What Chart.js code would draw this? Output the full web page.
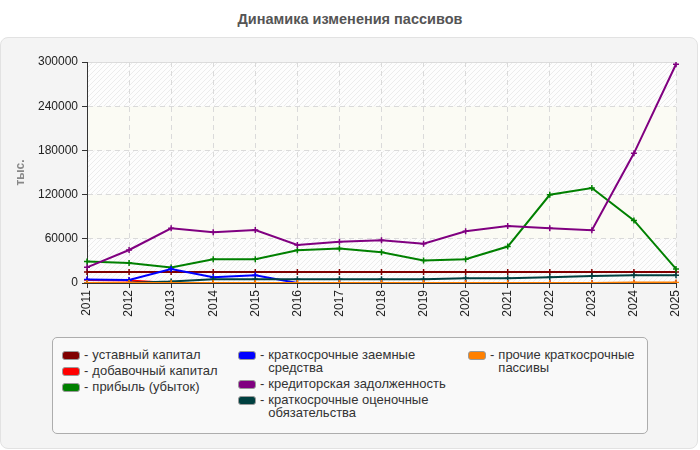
<!DOCTYPE html>
<html>
<head>
<meta charset="utf-8">
<script src="https://cdn.jsdelivr.net/npm/chart.js@4/dist/chart.umd.min.js"></script>
<style>
  html, body { margin:0; padding:0; background:#ffffff; }
  body { width:700px; height:450px; position:relative; overflow:hidden; font-family:"Liberation Sans", Arial, sans-serif; }
  #title { position:absolute; left:0; top:11px; width:700px; text-align:center; font-weight:bold; font-size:14.5px; color:#555; }
  #panel { position:absolute; left:0; top:37px; width:696px; height:410px; background:#f4f4f4; border:1px solid #e2e2e2; border-radius:8px; }
  #cv { position:absolute; left:0; top:0; }
  #legend { position:absolute; left:52px; top:337px; width:594px; height:95px; background:#f9f9f9; border:1px solid #adadad; border-radius:5px; }
  .col { position:absolute; top:10px; }
  .item { display:flex; align-items:flex-start; margin-bottom:3px; font-size:13px; line-height:13px; color:#333; }
  .sw { width:16px; height:7px; border:1px solid #9a9a9a; border-radius:3px; margin-top:3px; margin-right:4px; flex:none; }
  .dash { margin-right:4px; flex:none; }
  .txt { width:190px; }
</style>
</head>
<body>
<div id="title">Динамика изменения пассивов</div>
<div id="panel"></div>
<canvas id="cv" width="700" height="330"></canvas>
<div id="legend"></div>
<script>
const years = ['2011','2012','2013','2014','2015','2016','2017','2018','2019','2020','2021','2022','2023','2024','2025'];
const seriesNames = ['уставный капитал','добавочный капитал','прибыль (убыток)','краткосрочные заемные средства','кредиторская задолженность','краткосрочные оценочные обязательства','прочие краткосрочные пассивы'];
const seriesColors = ['#800000','#ff0000','#008000','#0000ff','#800080','#004040','#ff8000'];
const ustavny      = [15000,15000,15000,15000,15000,15000,15000,15000,15000,15000,15000,15000,15000,15000,15000];
const dobavochny   = [4000,3300,0,0,0,0,0,0,0,0,0,0,0,0,0];
const pribyl       = [29100,27200,21000,32300,32300,44500,46800,41800,30500,32300,49500,119800,128900,84900,19100];
const zaemnye      = [4600,4100,19000,7700,10500,0,0,0,0,0,0,0,0,0,0];
const kreditorskaya= [21300,44800,74200,68800,71900,51600,56100,58000,53400,70200,77400,74200,71500,176000,296900];
const otsenochnye  = [0,300,2000,5000,5000,5000,5000,5000,5000,6400,6400,7700,9500,10500,10500];
const prochie      = [0,0,0,0,0,0,0,0,0,0,0,0,0,700,700];
const yTicks = [0,60000,120000,180000,240000,300000];
const seriesData = [ustavny,dobavochny,pribyl,zaemnye,kreditorskaya,otsenochnye,prochie];

function makeHatch(){
  const c = document.createElement('canvas'); c.width = 5; c.height = 5;
  const x = c.getContext('2d');
  x.fillStyle = '#fdfdfd'; x.fillRect(0,0,5,5);
  x.strokeStyle = '#ececec'; x.lineWidth = 1;
  x.beginPath(); x.moveTo(-1,6); x.lineTo(6,-1); x.stroke();
  x.beginPath(); x.moveTo(-1,1); x.lineTo(1,-1); x.stroke();
  x.beginPath(); x.moveTo(4,6); x.lineTo(6,4); x.stroke();
  return c;
}
const hatchCanvas = makeHatch();

const bandPlugin = {
  id:'bands',
  beforeDraw(chart){
    const {ctx, chartArea:a, scales:{y}} = chart;
    const pat = ctx.createPattern(hatchCanvas,'repeat');
    for (let i=0;i<yTicks.length-1;i++){
      const y0 = y.getPixelForValue(yTicks[i]), y1 = y.getPixelForValue(yTicks[i+1]);
      ctx.fillStyle = (i%2===0) ? pat : '#fbfbf4';
      ctx.fillRect(a.left, y1, a.right-a.left, y0-y1);
    }
    ctx.strokeStyle = '#dcdcdc'; ctx.lineWidth = 1;
    ctx.beginPath(); ctx.moveTo(a.left, a.top+0.5); ctx.lineTo(a.right, a.top+0.5); ctx.stroke();
  }
};

const N = seriesData.length;
const datasets = seriesData.map((d,i)=>({
  label: seriesNames[i], data: d,
  borderColor: seriesColors[i], backgroundColor: seriesColors[i],
  borderWidth: 2, tension: 0,
  pointStyle: 'cross', pointRadius: 3, pointBorderWidth: 1.5,
  pointBorderColor: seriesColors[i],
  order: N - i
}));

const font = {family:'"Liberation Sans", Arial, sans-serif', size:12};
new Chart(document.getElementById('cv'), {
  type:'line',
  data:{ labels: years, datasets },
  options:{
    responsive:false, animation:false, devicePixelRatio:1,
    layout:{ padding:{left:0, right:24, top:62, bottom:7} },
    plugins:{ legend:{display:false}, tooltip:{enabled:false}, title:{display:false} },
    scales:{
      x:{
        type:'category',
        offset:false,
        grid:{ color:'#dadada', lineWidth:1, tickLength:5, tickColor:'#333', drawOnChartArea:true },
        border:{ color:'#333', width:1, dash:[5,4] },
        ticks:{ font, color:'#222', maxRotation:90, minRotation:90, padding:2, autoSkip:false },
        afterFit(s){ s.height = 40; }
      },
      y:{
        min:0, max:300000,
        afterBuildTicks(s){ s.ticks = yTicks.map(v=>({value:v})); },
        grid:{ color:'#dadada', lineWidth:1, tickLength:5, tickColor:'#333' },
        border:{ color:'#333', width:1, dash:[5,4] },
        ticks:{ font, color:'#222', padding:4, callback:(v)=>String(v) },
        title:{ display:true, text:'тыс.', color:'#888', font:{family:font.family, size:12, weight:'bold'}, padding:{top:13, bottom:0} },
        afterFit(s){ s.width = 87; }
      }
    }
  },
  plugins:[bandPlugin]
});

const legendCols = [[0,1,2],[3,4,5],[6]];
const colLeft = [9, 185, 415];
const leg = document.getElementById('legend');
legendCols.forEach((col,ci)=>{
  const cd = document.createElement('div'); cd.className='col'; cd.style.left = colLeft[ci]+'px';
  col.forEach(i=>{
    const it = document.createElement('div'); it.className='item';
    const sw = document.createElement('div'); sw.className='sw'; sw.style.background = seriesColors[i];
    const da = document.createElement('span'); da.className='dash'; da.textContent='-';
    const tx = document.createElement('span'); tx.className='txt'; tx.textContent = seriesNames[i];
    if (ci===0) tx.style.width='140px';
    it.appendChild(sw); it.appendChild(da); it.appendChild(tx); cd.appendChild(it);
  });
  leg.appendChild(cd);
});
</script>
</body>
</html>
